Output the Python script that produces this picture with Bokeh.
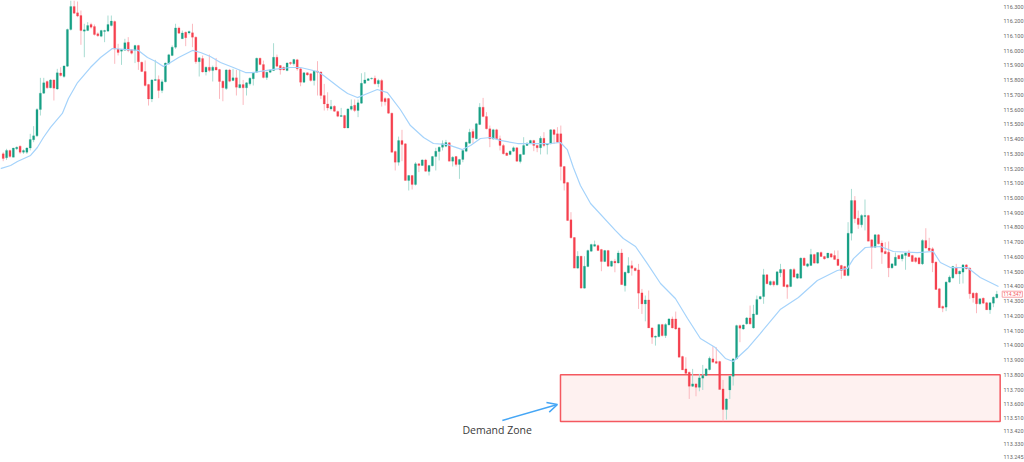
from bokeh.plotting import figure
from bokeh.models import (ColumnDataSource, FixedTicker, NumeralTickFormatter, LinearAxis,
                          Range1d, Label, Arrow, OpenHead)
from bokeh.embed import file_html
from bokeh.resources import INLINE

opens = [
115.300,115.273,115.323,115.277,115.334,115.352,115.311,115.311,115.339,115.395,
115.422,115.601,115.712,115.791,115.748,115.802,115.741,115.848,115.825,115.895,
116.144,116.300,116.257,116.239,116.133,116.137,116.178,116.164,116.115,116.099,
116.131,116.133,116.171,116.198,116.011,115.997,116.004,116.058,116.006,116.002,
116.036,115.922,115.859,115.771,115.673,115.798,115.805,115.730,115.789,115.911,
115.968,116.024,116.155,116.081,116.126,116.121,116.122,116.092,115.925,115.947,
115.856,115.888,115.865,115.888,115.872,115.793,115.743,115.870,115.798,115.816,
115.748,115.770,115.748,115.775,115.809,115.854,115.949,115.906,115.818,115.854,
115.865,115.956,115.899,115.888,115.865,115.920,115.911,115.938,115.877,115.786,
115.850,115.843,115.798,115.861,115.856,115.696,115.639,115.605,115.623,115.587,
115.553,115.560,115.476,115.603,115.630,115.594,115.644,115.779,115.798,115.809,
115.813,115.775,115.798,115.675,115.675,115.576,115.316,115.243,115.391,115.368,
115.119,115.153,115.092,115.232,115.221,115.259,115.180,115.219,115.282,115.316,
115.345,115.352,115.375,115.250,115.282,115.228,115.262,115.318,115.372,115.452,
115.402,115.499,115.617,115.553,115.470,115.400,115.463,115.402,115.357,115.305,
115.296,115.318,115.341,115.248,115.296,115.357,115.372,115.391,115.357,115.341,
115.406,115.361,115.368,115.463,115.436,115.436,115.214,115.105,114.852,114.732,
114.524,114.605,114.388,114.535,114.639,114.673,114.677,114.650,114.569,114.643,
114.537,114.571,114.559,114.627,114.405,114.492,114.541,114.523,114.512,114.356,
114.281,114.308,114.118,114.055,114.059,114.141,114.066,114.139,114.179,114.179,
114.118,113.924,113.840,113.817,113.722,113.738,113.715,113.777,113.795,113.835,
113.908,113.890,113.890,113.704,113.564,113.697,113.790,113.908,114.134,114.111,
114.146,114.186,114.118,114.209,114.315,114.331,114.479,114.411,114.433,114.411,
114.492,114.515,114.411,114.399,114.515,114.456,114.456,114.592,114.537,114.542,
114.617,114.558,114.630,114.603,114.594,114.621,114.610,114.585,114.542,114.535,
114.474,114.761,114.983,114.863,114.818,114.875,114.881,114.716,114.666,114.750,
114.694,114.637,114.632,114.526,114.542,114.610,114.587,114.610,114.626,114.610,
114.594,114.594,114.553,114.712,114.660,114.655,114.565,114.384,114.264,114.259,
114.429,114.458,114.526,114.485,114.497,114.546,114.524,114.354,114.354,114.282,
114.320,114.289,114.241,114.286,114.323]

highs = [
115.311,115.334,115.329,115.341,115.350,115.357,115.330,115.345,115.436,115.488,
115.610,115.816,115.816,115.798,115.807,115.805,115.877,115.888,115.900,116.150,
116.341,116.341,116.334,116.273,116.183,116.194,116.190,116.178,116.125,116.142,
116.142,116.239,116.239,116.205,116.047,116.012,116.081,116.092,116.012,116.040,
116.040,115.926,115.934,115.775,115.807,115.938,115.832,115.805,115.920,115.979,
116.036,116.183,116.164,116.137,116.130,116.137,116.183,116.097,115.956,115.967,
115.893,115.974,115.899,115.951,115.877,115.798,115.875,115.877,115.877,115.870,
115.870,115.802,115.786,115.820,115.856,115.953,115.953,115.933,115.858,115.874,
116.051,115.974,115.903,115.892,115.921,115.925,115.945,115.945,115.881,115.854,
115.854,115.847,115.865,115.929,115.860,115.775,115.718,115.666,115.630,115.594,
115.612,115.565,115.610,115.669,115.669,115.669,115.847,115.854,115.815,115.818,
115.831,115.809,115.809,115.684,115.680,115.580,115.322,115.417,115.463,115.372,
115.157,115.157,115.243,115.236,115.263,115.266,115.225,115.286,115.341,115.350,
115.391,115.395,115.380,115.284,115.286,115.266,115.327,115.383,115.470,115.470,
115.510,115.644,115.680,115.583,115.492,115.470,115.470,115.424,115.368,115.312,
115.323,115.350,115.345,115.300,115.413,115.379,115.395,115.395,115.361,115.420,
115.447,115.372,115.467,115.467,115.481,115.492,115.218,115.110,114.904,114.735,
114.639,114.608,114.605,114.650,114.690,114.711,114.685,114.655,114.648,114.648,
114.575,114.587,114.643,114.655,114.500,114.598,114.575,114.530,114.553,114.383,
114.338,114.372,114.123,114.066,114.146,114.146,114.150,114.184,114.195,114.229,
114.122,113.929,113.919,113.822,113.840,113.742,113.806,113.867,113.845,113.924,
113.994,113.987,113.895,113.765,113.640,113.795,113.912,114.140,114.141,114.143,
114.192,114.270,114.275,114.338,114.336,114.519,114.484,114.440,114.440,114.504,
114.553,114.519,114.415,114.520,114.526,114.490,114.597,114.597,114.558,114.655,
114.622,114.632,114.637,114.608,114.628,114.626,114.644,114.644,114.547,114.540,
114.836,115.062,115.013,114.915,114.890,114.990,114.886,114.720,114.755,114.755,
114.712,114.700,114.705,114.558,114.630,114.615,114.622,114.632,114.648,114.615,
114.600,114.600,114.720,114.795,114.730,114.666,114.570,114.390,114.270,114.435,
114.474,114.540,114.553,114.508,114.552,114.552,114.530,114.361,114.360,114.320,
114.325,114.295,114.293,114.332,114.370]

lows = [
115.250,115.259,115.273,115.277,115.325,115.300,115.300,115.300,115.323,115.379,
115.415,115.560,115.707,115.741,115.745,115.662,115.734,115.825,115.816,115.890,
116.137,116.250,116.228,116.040,115.956,116.133,116.150,116.103,116.095,116.092,
116.058,116.133,116.165,115.911,115.968,115.904,116.002,115.990,115.975,115.916,
115.870,115.855,115.757,115.628,115.651,115.796,115.678,115.712,115.785,115.906,
115.963,116.013,116.115,116.081,116.031,116.110,116.024,115.911,115.825,115.852,
115.832,115.854,115.791,115.865,115.673,115.657,115.734,115.786,115.793,115.696,
115.745,115.632,115.696,115.764,115.764,115.850,115.902,115.812,115.802,115.848,
115.863,115.888,115.838,115.866,115.861,115.903,115.899,115.865,115.759,115.782,
115.830,115.790,115.764,115.696,115.673,115.594,115.594,115.594,115.585,115.549,
115.553,115.473,115.473,115.594,115.583,115.549,115.640,115.775,115.795,115.805,
115.770,115.752,115.621,115.628,115.572,115.307,115.187,115.220,115.250,115.119,
115.051,115.058,115.085,115.176,115.217,115.178,115.153,115.215,115.187,115.255,
115.323,115.345,115.250,115.214,115.214,115.130,115.243,115.311,115.368,115.372,
115.398,115.495,115.549,115.466,115.345,115.396,115.395,115.323,115.296,115.285,
115.290,115.312,115.246,115.235,115.293,115.353,115.368,115.318,115.311,115.296,
115.345,115.296,115.365,115.368,115.375,115.119,115.051,114.844,114.725,114.524,
114.520,114.388,114.385,114.530,114.635,114.670,114.640,114.503,114.565,114.533,
114.533,114.496,114.555,114.412,114.365,114.488,114.473,114.503,114.247,114.213,
114.163,114.118,114.010,113.998,114.055,114.060,114.050,114.135,114.115,114.105,
113.919,113.833,113.805,113.636,113.717,113.654,113.688,113.697,113.790,113.830,
113.885,113.875,113.700,113.485,113.496,113.636,113.727,113.905,114.021,114.105,
114.140,114.140,114.113,114.205,114.310,114.282,114.414,114.405,114.399,114.405,
114.463,114.399,114.316,114.395,114.460,114.450,114.452,114.540,114.530,114.538,
114.555,114.552,114.600,114.582,114.590,114.594,114.580,114.538,114.451,114.470,
114.468,114.712,114.829,114.791,114.800,114.780,114.707,114.519,114.660,114.685,
114.553,114.620,114.463,114.520,114.538,114.585,114.570,114.513,114.600,114.565,
114.560,114.550,114.545,114.655,114.640,114.497,114.377,114.255,114.225,114.232,
114.425,114.450,114.480,114.417,114.420,114.515,114.316,114.290,114.218,114.275,
114.280,114.240,114.214,114.259,114.318]

closes = [
115.268,115.323,115.282,115.339,115.345,115.311,115.323,115.339,115.397,115.422,
115.601,115.712,115.782,115.748,115.802,115.746,115.850,115.832,115.897,116.144,
116.300,116.255,116.235,116.137,116.142,116.171,116.160,116.110,116.101,116.137,
116.137,116.178,116.201,116.011,115.988,116.008,116.054,116.002,115.983,116.036,
115.925,115.859,115.764,115.673,115.802,115.805,115.730,115.789,115.916,115.972,
116.024,116.155,116.119,116.121,116.088,116.131,116.092,115.925,115.952,115.856,
115.888,115.865,115.888,115.870,115.791,115.748,115.870,115.793,115.816,115.752,
115.770,115.748,115.782,115.813,115.854,115.949,115.906,115.818,115.854,115.870,
115.956,115.895,115.870,115.870,115.917,115.913,115.940,115.877,115.786,115.850,
115.836,115.798,115.861,115.854,115.696,115.639,115.612,115.621,115.589,115.555,
115.560,115.476,115.605,115.623,115.594,115.646,115.779,115.802,115.809,115.813,
115.775,115.798,115.655,115.653,115.576,115.311,115.243,115.390,115.363,115.119,
115.153,115.092,115.232,115.221,115.259,115.182,115.221,115.282,115.318,115.345,
115.368,115.377,115.250,115.277,115.228,115.262,115.323,115.379,115.447,115.409,
115.504,115.617,115.553,115.470,115.402,115.463,115.402,115.357,115.300,115.289,
115.318,115.341,115.250,115.296,115.357,115.372,115.391,115.357,115.341,115.406,
115.357,115.368,115.463,115.431,115.379,115.214,115.101,114.847,114.730,114.524,
114.605,114.388,114.537,114.643,114.684,114.684,114.643,114.569,114.643,114.537,
114.571,114.559,114.627,114.412,114.496,114.541,114.523,114.507,114.354,114.281,
114.308,114.118,114.055,114.062,114.141,114.066,114.141,114.179,114.118,114.111,
113.919,113.833,113.810,113.722,113.738,113.715,113.779,113.795,113.840,113.912,
113.885,113.878,113.700,113.564,113.636,113.790,113.908,114.134,114.116,114.138,
114.186,114.146,114.213,114.311,114.331,114.479,114.418,114.433,114.411,114.499,
114.515,114.399,114.395,114.515,114.463,114.485,114.592,114.542,114.553,114.617,
114.558,114.630,114.603,114.587,114.626,114.599,114.583,114.542,114.508,114.474,
114.761,114.983,114.859,114.820,114.881,114.881,114.707,114.666,114.750,114.689,
114.632,114.621,114.526,114.553,114.598,114.587,114.617,114.626,114.603,114.569,
114.569,114.553,114.712,114.660,114.644,114.560,114.379,114.255,114.252,114.429,
114.463,114.535,114.485,114.503,114.546,114.519,114.350,114.322,114.282,114.316,
114.286,114.241,114.289,114.327,114.347]

ma_bars = [-0.8,2.2,4.2,8.1,10.1,11.9,14,17.5,19.3,22,25.8,28.8,32.3,36.8,40,42.7,45.1,47.4,49.5,51.9,
56,58.4,61.3,64.3,68.1,71.7,74.1,80,85,88,93,94.8,99.8,101.9,104.8,107.8,110.7,113.7,117.5,120.5,
124.4,127.3,131.5,135.9,138.3,141.2,144.2,147.1,152.2,156,161.9,164.9,166.9,168.7,170.8,173.8,181.2,183.5,187.1,190.6,
194.5,198.9,202.5,206.3,210.7,213.7,216,220.2,224,229.9,235.3,240.9,246.8,249.8,251.6,255.1,259.6,263.4,270.5,275.2,
277.3,280.3,285.3,289.1,294.5]
ma_values = [115.200,115.221,115.248,115.289,115.343,115.411,115.479,115.574,115.676,115.784,115.886,115.954,116.015,116.008,116.002,115.954,115.927,115.893,115.920,115.954,
116.002,115.988,115.961,115.920,115.886,115.852,115.852,115.873,115.886,115.886,115.859,115.832,115.744,115.710,115.682,115.710,115.737,115.716,115.601,115.492,
115.411,115.370,115.363,115.329,115.357,115.404,115.411,115.391,115.370,115.370,115.370,115.377,115.329,115.207,115.085,114.963,114.779,114.725,114.671,114.555,
114.420,114.318,114.182,114.046,113.985,113.911,113.890,113.978,114.080,114.243,114.325,114.440,114.508,114.522,114.589,114.664,114.671,114.637,114.630,114.637,
114.562,114.528,114.528,114.460,114.399]

tick_values = [116.3,116.2,116.1,116.0,115.9,115.8,115.7,115.6,115.5,115.4,115.3,115.2,115.1,115.0,
               114.9,114.8,114.7,114.6,114.5,114.4,114.3,114.2,114.1,114.0,113.9,113.8,113.7,113.6,
               113.51,113.42,113.33,113.245]
zone_top = 113.8
zone_bottom = 113.483
zone_left = 164.9
zone_right = 295.0
last_price = 114.347
zone_label = "Demand Zone"

bars = list(range(len(opens)))
colors = ["#17a085" if c >= o else "#f5404f" for o, c in zip(opens, closes)]
wicks = ["#a8dcd2" if c >= o else "#fbb9bf" for o, c in zip(opens, closes)]
src = ColumnDataSource(dict(x=bars, o=opens, h=highs, l=lows, c=closes, color=colors, wick=wicks))

p = figure(frame_width=1024, frame_height=462, output_backend="svg", toolbar_location=None,
           x_axis_location=None, y_axis_location=None, min_border=0,
           min_border_left=0, min_border_right=0, min_border_top=0, min_border_bottom=0,
           x_range=Range1d(-0.8, 302.2), y_range=Range1d(113.2045, 116.341),
           margin=(0, 0, 0, 0), outline_line_color=None, background_fill_color="white")
p.grid.visible = False

yaxis = LinearAxis(ticker=FixedTicker(ticks=tick_values), formatter=NumeralTickFormatter(format="0.000"),
                   fixed_location=295.4, axis_line_color=None,
                   major_tick_line_color=None, minor_tick_line_color=None,
                   major_tick_in=0, major_tick_out=0, minor_tick_in=0, minor_tick_out=0,
                   major_label_text_font_size="5.5px", major_label_text_color="#666666",
                   major_label_standoff=2, major_label_text_font="Roboto")
p.add_layout(yaxis, "right")

p.quad(left=[zone_left], right=[zone_right], top=[zone_top], bottom=[zone_bottom],
       fill_color="#fef1f0", line_color="#f4585f", line_width=1.5)
p.segment("x", "h", "x", "l", source=src, line_color="wick", line_width=1)
p.vbar(x="x", top="o", bottom="c", width=0.62, source=src, fill_color="color", line_color="color", line_width=0.2)
p.line(ma_bars, ma_values, line_color="#a5d3fb", line_width=1.2)

p.add_layout(Arrow(end=OpenHead(size=10, line_color="#45a6f5", line_width=1.5),
                   x_start=147.7, y_start=113.490, x_end=164.0, y_end=113.598,
                   line_color="#45a6f5", line_width=1.5))
p.add_layout(Label(x=135.9, y=113.428, text=zone_label, text_font="Open Sans", text_font_size="10.5px",
                   text_color="#3a3a3a", text_baseline="middle"))
p.add_layout(Label(x=295.6, y=last_price, text=f"{last_price:.3f}", text_font="Roboto", text_font_size="5px",
                   text_color="#f4585f", text_baseline="middle", background_fill_color="white",
                   border_line_color="#f9a0a5", border_line_width=1, padding=1))

open("out.html", "w").write(file_html(p, INLINE))
